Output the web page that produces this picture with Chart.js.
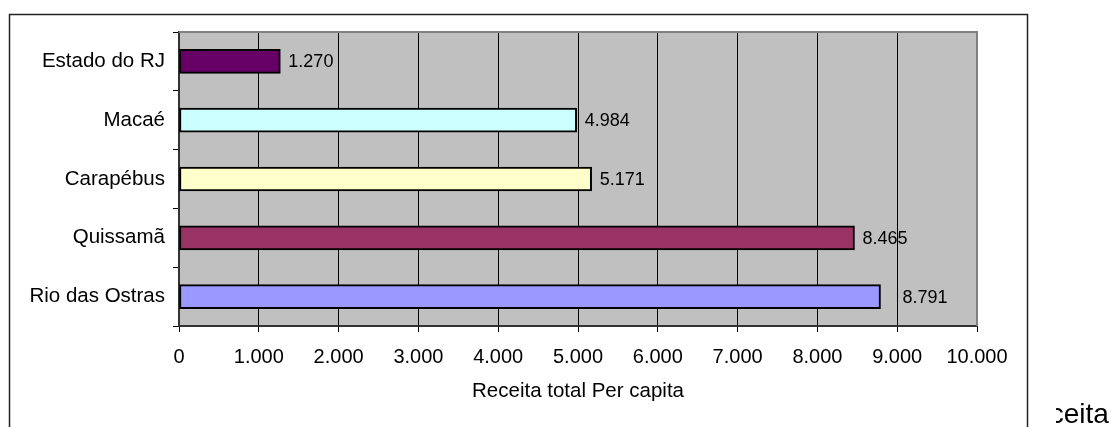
<!DOCTYPE html>
<html lang="pt">
<head>
    <meta charset="UTF-8">
    <title>Receita total Per capita</title>
    <script src="https://cdn.jsdelivr.net/npm/chart.js"></script>
    <style>
        body {
            margin: 0;
            padding: 0;
            background: white;
        }
        canvas {
            display: block;
        }
    </style>
</head>
<body>
    <canvas id="receitaChart" width="1117" height="427"></canvas>

    <script>
        const categories = ['Estado do RJ', 'Macaé', 'Carapébus', 'Quissamã', 'Rio das Ostras'];
        const receita = [1270, 4984, 5171, 8465, 8791];
        const valueLabels = ['1.270', '4.984', '5.171', '8.465', '8.791'];
        const axisTitle = 'Receita total Per capita';

        // bar fills, one per municipality
        const barColors = ['#660066', '#CCFFFF', '#FFFFCC', '#993366', '#9999FF'];
        // gap between bar end and its label (Excel put the last one further out)
        const labelGap = [8, 8, 8, 8, 22];

        const FONT = "'Liberation Sans', Arial, sans-serif";

        // gray plot area, outer frame and the clipped text on the right
        const decor = {
            id: 'decor',
            beforeDraw(chart) {
                const { ctx, chartArea: a } = chart;
                ctx.save();
                ctx.fillStyle = '#fff';
                ctx.fillRect(0, 0, chart.width, chart.height);
                ctx.strokeStyle = '#222';
                ctx.lineWidth = 1.5;
                ctx.strokeRect(9.5, 14.5, 1018, 500);
                ctx.fillStyle = '#C0C0C0';
                ctx.fillRect(a.left, a.top, a.right - a.left, a.bottom - a.top);
                ctx.restore();
            },
            afterDraw(chart) {
                const { ctx, chartArea: a } = chart;
                ctx.save();
                ctx.strokeStyle = '#808080';
                ctx.lineWidth = 2;
                ctx.beginPath();
                ctx.moveTo(a.left, a.top);
                ctx.lineTo(a.right, a.top);
                ctx.lineTo(a.right, a.bottom);
                ctx.stroke();

                // leftover text peeking out behind the chart box
                ctx.beginPath();
                ctx.rect(1056, 380, 80, 60);
                ctx.clip();
                ctx.fillStyle = '#000';
                ctx.font = '28px ' + FONT;
                ctx.textAlign = 'left';
                ctx.textBaseline = 'alphabetic';
                ctx.fillText('Receita', 1014, 423);
                ctx.restore();
            }
        };

        // value labels right of each bar
        const barLabels = {
            id: 'barLabels',
            afterDatasetsDraw(chart) {
                const { ctx } = chart;
                const meta = chart.getDatasetMeta(0);
                ctx.save();
                ctx.fillStyle = '#000';
                ctx.font = '18px ' + FONT;
                ctx.textAlign = 'left';
                ctx.textBaseline = 'middle';
                meta.data.forEach((bar, i) => {
                    ctx.fillText(valueLabels[i], bar.x + labelGap[i], bar.y + 1);
                });
                ctx.restore();
            }
        };

        new Chart(document.getElementById('receitaChart'), {
            type: 'bar',
            data: {
                labels: categories,
                datasets: [{
                    data: receita,
                    backgroundColor: barColors,
                    borderColor: '#000',
                    borderWidth: 2,
                    borderSkipped: false,
                    barThickness: 24
                }]
            },
            options: {
                indexAxis: 'y',
                responsive: false,
                animation: false,
                layout: {
                    padding: { left: 0, top: 32, right: 140, bottom: 0 }
                },
                plugins: {
                    legend: { display: false },
                    tooltip: { enabled: false }
                },
                scales: {
                    x: {
                        min: 0,
                        max: 10000,
                        afterFit(scale) { scale.height = 101; },
                        ticks: {
                            stepSize: 1000,
                            color: '#000',
                            padding: 13,
                            font: { family: FONT, size: 20 },
                            callback: (v) => v.toLocaleString('de-DE')
                        },
                        grid: { color: '#000', lineWidth: 1, tickLength: 6 },
                        border: { color: '#333', width: 2 },
                        title: {
                            display: true,
                            text: axisTitle,
                            color: '#000',
                            font: { family: FONT, size: 20.5 },
                            padding: { top: 0, bottom: 23 }
                        }
                    },
                    y: {
                        afterFit(scale) { scale.width = 179; },
                        ticks: {
                            color: '#000',
                            padding: 8,
                            font: { family: FONT, size: 20.5 }
                        },
                        grid: {
                            drawOnChartArea: false,
                            offset: true,
                            color: '#000',
                            tickLength: 6
                        },
                        border: { color: '#333', width: 2 }
                    }
                }
            },
            plugins: [decor, barLabels]
        });
    </script>
</body>
</html>
